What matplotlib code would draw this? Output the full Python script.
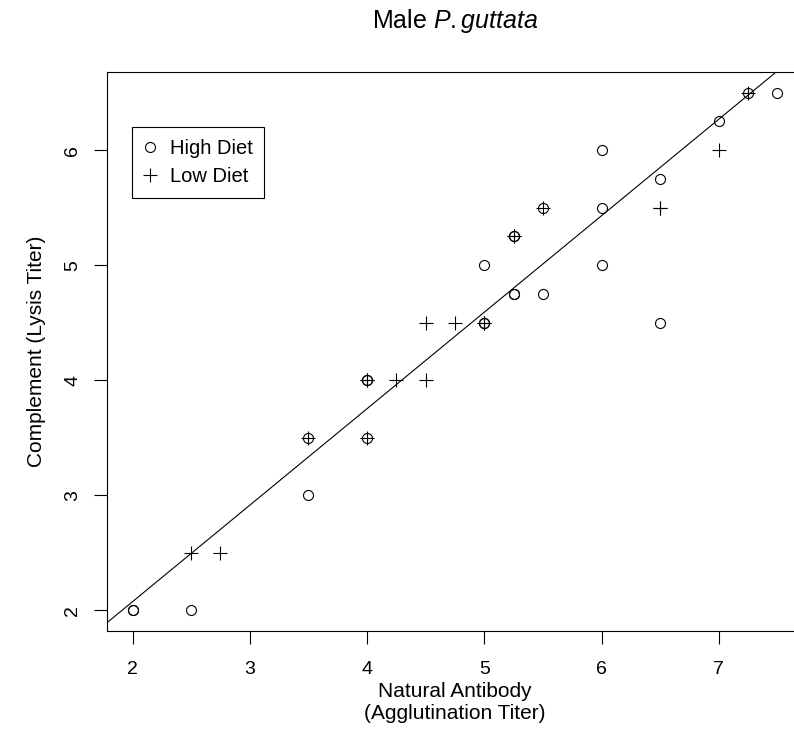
import matplotlib
matplotlib.use("Agg")
import matplotlib.pyplot as plt

plt.rcParams["font.family"] = ["Liberation Sans", "DejaVu Sans"]
plt.rcParams["mathtext.fontset"] = "custom"
plt.rcParams["mathtext.rm"] = "Liberation Sans"
plt.rcParams["mathtext.it"] = "Liberation Sans:italic"

# High diet birds (repeated pairs are overplotted points)
high_x = [2, 2, 2.5, 3.5, 3.5, 4, 4, 4, 5, 5, 5, 5.25, 5.25, 5.5, 5.25, 5.25,
          5.5, 6, 6, 6, 6.5, 6.5, 7, 7.25, 7.5]
high_y = [2, 2, 2, 3, 3.5, 3.5, 4, 4, 4.5, 4.5, 5, 4.75, 4.75, 4.75, 5.25, 5.25,
          5.5, 5, 5.5, 6, 4.5, 5.75, 6.25, 6.5, 6.5]

# Low diet birds
low_x = [2.5, 2.75, 3.5, 4, 4, 4, 4.25, 4.5, 4.5, 4.75, 5, 5, 5.25, 5.25,
         5.5, 6.5, 6.5, 7, 7.25]
low_y = [2.5, 2.5, 3.5, 3.5, 4, 4, 4, 4, 4.5, 4.5, 4.5, 4.5, 5.25, 5.25,
         5.5, 5.5, 5.5, 6, 6.5]

# fitted line
fit_intercept = 0.397
fit_slope = 0.839

fig = plt.figure(figsize=(7.94, 7.34), dpi=100)
ax = fig.add_axes([0.1344, 0.1403, 0.8773, 0.7616])

ax.plot(high_x, high_y, linestyle="none", marker="o", markersize=7.2,
        markerfacecolor="none", markeredgecolor="black", markeredgewidth=0.8,
        label="High Diet")
ax.plot(low_x, low_y, linestyle="none", marker="+", markersize=10.5,
        color="black", markeredgewidth=0.8, label="Low Diet")
ax.axline((0, fit_intercept), slope=fit_slope, color="black", lw=0.8)

ax.set_xlim(1.78, 7.72)
ax.set_ylim(1.82, 6.68)
ax.set_xticks([2, 3, 4, 5, 6, 7])
ax.set_yticks([2, 3, 4, 5, 6])
for s in ax.spines.values():
    s.set_linewidth(0.8)
ax.tick_params(direction="out", length=9.5, width=0.8, labelsize=14, pad=12)
ax.tick_params(axis="y", pad=9)
for lab in ax.get_yticklabels():
    lab.set_rotation(90)
    lab.set_va("center")

ax.set_xlabel("Natural Antibody\n(Agglutination Titer)", fontsize=15,
              labelpad=3, linespacing=1.2)
ax.set_ylabel("Complement (Lysis Titer)", fontsize=15, labelpad=13)
ax.set_title(r"Male $\it{P.guttata}$", fontsize=18, pad=32)

leg = ax.legend(loc="upper left", bbox_to_anchor=(0.0367, 0.901), fontsize=14.5,
                frameon=True, fancybox=False, edgecolor="black", framealpha=1,
                borderpad=0.6, handlelength=0.6, handletextpad=0.65,
                labelspacing=0.42, borderaxespad=0)
leg.get_frame().set_linewidth(0.8)

fig.savefig("out.png", dpi=100)
